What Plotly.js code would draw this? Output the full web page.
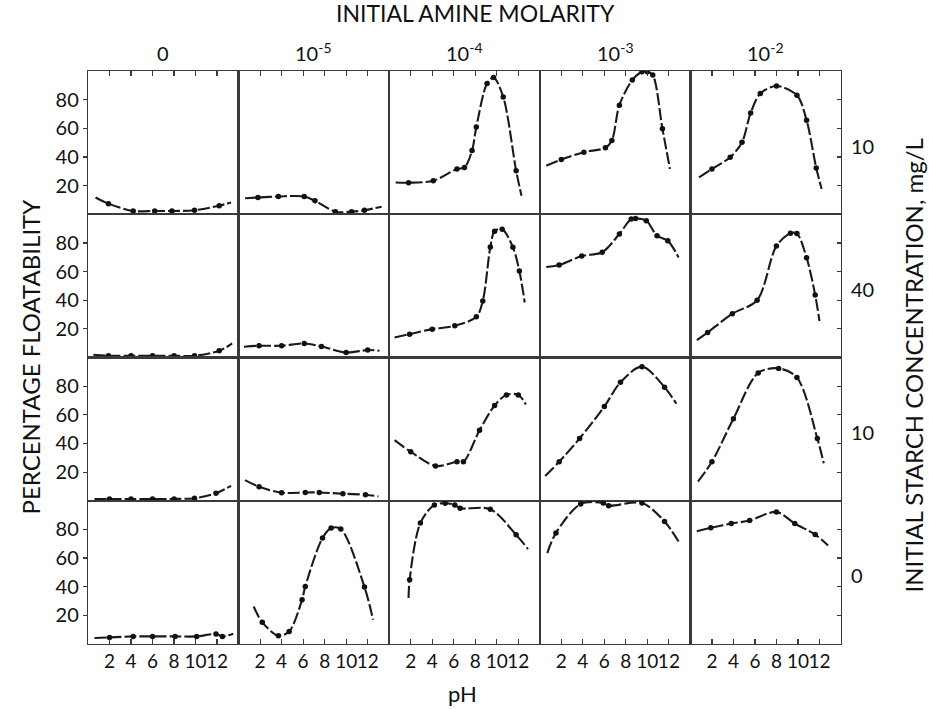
<!DOCTYPE html>
<html>
<head>
<meta charset="utf-8">
<script src="https://cdn.plot.ly/plotly-3.0.1.min.js"></script>
<style>html,body{margin:0;padding:0;background:#fff;}#chart{width:929px;height:709px;}</style>
</head>
<body>
<div id="chart"></div>
<script>
// Column headers (initial amine molarity) and row labels (initial starch concentration, mg/L)
const amineLabels = ["0", "10<sup>-5</sup>", "10<sup>-4</sup>", "10<sup>-3</sup>", "10<sup>-2</sup>"];
const starchLabels = ["10", "40", "10", "0"];
const xTicks = [2, 4, 6, 8, 10, 12];
const yTicks = [20, 40, 60, 80];

// Row 1 (starch 10 mg/L)
const ph_r1_a0 = [0.7, 1.9, 4.2, 6.2, 7.8, 9.9, 12.2, 13.3];
const fl_r1_a0 = [11.7, 7.4, 2.3, 2.3, 2.3, 2.8, 6.0, 8.2];
const ph_r1_a5 = [0.6, 1.8, 3.7, 6.1, 7.1, 9.0, 10.5, 11.7, 13.3];
const fl_r1_a5 = [11.2, 11.7, 12.4, 12.4, 9.4, 1.8, 1.8, 2.8, 5.3];
const ph_r1_a4 = [0.6, 1.8, 4.1, 6.3, 7.0, 7.7, 8.1, 9.1, 9.7, 10.6, 11.8, 12.3];
const fl_r1_a4 = [22.2, 22.0, 23.4, 31.6, 32.7, 44.5, 60.9, 91.3, 95.5, 81.9, 30.4, 12.9];
const ph_r1_a3 = [0.6, 2.0, 4.1, 6.1, 6.7, 7.4, 8.6, 9.5, 10.0, 10.5, 11.4, 12.1];
const fl_r1_a3 = [33.9, 38.2, 43.3, 46.4, 51.5, 76.1, 93.7, 99.5, 99.5, 97.2, 59.7, 31.6];
const ph_r1_a2 = [0.8, 2.0, 3.7, 4.8, 5.6, 6.5, 8.0, 9.9, 10.8, 11.7, 12.2];
const fl_r1_a2 = [25.7, 31.6, 39.8, 50.3, 70.7, 84.3, 89.5, 83.1, 65.6, 32.3, 17.6];

// Row 2 (starch 40 mg/L)
const ph_r2_a0 = [0.5, 1.9, 4.0, 6.0, 8.0, 9.9, 12.2, 13.4];
const fl_r2_a0 = [1.9, 1.2, 1.2, 1.2, 1.2, 1.2, 4.7, 9.8];
const ph_r2_a5 = [0.5, 1.9, 4.0, 6.1, 7.7, 10.0, 12.0, 13.1];
const fl_r2_a5 = [7.5, 8.2, 8.2, 9.8, 7.7, 3.5, 5.2, 4.7];
const ph_r2_a4 = [0.5, 1.9, 4.0, 6.1, 8.1, 8.7, 9.4, 9.8, 10.5, 11.5, 12.1, 12.6];
const fl_r2_a4 = [13.9, 16.3, 19.8, 22.1, 28.4, 39.5, 77.1, 88.2, 89.5, 76.9, 60.4, 38.4];
const ph_r2_a3 = [0.6, 1.8, 3.9, 5.8, 7.4, 8.5, 8.9, 9.9, 10.9, 11.9, 12.9];
const fl_r2_a3 = [63.2, 64.6, 70.8, 73.5, 86.3, 96.7, 97.1, 95.5, 85.0, 81.5, 69.8];
const ph_r2_a2 = [0.6, 1.6, 3.9, 6.2, 8.0, 9.3, 9.9, 10.8, 11.6, 12.0];
const fl_r2_a2 = [12.1, 17.4, 30.6, 40.0, 77.9, 86.8, 86.5, 69.7, 43.7, 25.5];

// Row 3 (starch 10 mg/L)
const ph_r3_a0 = [0.6, 2.0, 4.0, 6.0, 8.0, 9.9, 11.9, 13.3];
const fl_r3_a0 = [1.2, 1.2, 1.2, 1.2, 1.3, 1.8, 5.3, 10.4];
const ph_r3_a5 = [0.6, 1.9, 4.0, 6.2, 7.5, 9.7, 11.8, 13.0];
const fl_r3_a5 = [14.4, 9.8, 5.6, 5.8, 5.8, 4.9, 4.2, 3.0];
const ph_r3_a4 = [0.5, 2.0, 4.3, 6.3, 6.9, 8.4, 9.8, 10.9, 12.0, 12.7];
const fl_r3_a4 = [42.3, 34.2, 24.3, 27.2, 27.2, 49.2, 66.5, 73.9, 73.9, 67.2];
const ph_r3_a3 = [0.5, 1.8, 3.7, 6.0, 7.5, 9.5, 11.6, 12.7];
const fl_r3_a3 = [17.3, 27.2, 43.5, 65.8, 82.7, 93.6, 79.2, 67.7];
const ph_r3_a2 = [0.7, 2.0, 4.0, 6.3, 8.2, 9.9, 11.8, 12.4];
const fl_r3_a2 = [13.4, 27.2, 57.3, 89.2, 92.4, 86.1, 43.5, 26.1];

// Row 4 (starch 0 mg/L)
const ph_r4_a0 = [0.6, 2.0, 4.2, 6.0, 8.1, 10.1, 11.9, 12.5, 13.5];
const fl_r4_a0 = [4.2, 4.6, 5.3, 5.3, 5.3, 5.3, 7.0, 5.3, 7.2];
const ph_r4_a5 = [1.4, 2.2, 3.7, 4.7, 5.9, 6.2, 7.8, 8.6, 9.5, 11.7, 12.5];
const fl_r4_a5 = [26.2, 15.1, 5.8, 8.8, 30.9, 40.2, 74.0, 80.9, 80.3, 39.8, 17.0];
const ph_r4_a4 = [1.8, 1.9, 2.9, 4.2, 5.2, 6.1, 6.6, 9.4, 11.8, 12.9];
const fl_r4_a4 = [32.1, 44.9, 84.5, 97.1, 98.3, 97.1, 94.8, 94.1, 76.2, 66.3];
const ph_r4_a3 = [0.7, 1.5, 3.8, 5.9, 6.4, 9.5, 11.6, 12.9];
const fl_r4_a3 = [63.5, 77.5, 97.7, 98.4, 96.5, 98.4, 85.5, 71.6];
const ph_r4_a2 = [0.6, 1.9, 3.8, 5.5, 8.0, 9.7, 11.6, 12.8];
const fl_r4_a2 = [78.7, 81.1, 84.1, 86.2, 92.2, 84.1, 76.4, 68.8];

const panels = [
  [[ph_r1_a0, fl_r1_a0], [ph_r1_a5, fl_r1_a5], [ph_r1_a4, fl_r1_a4], [ph_r1_a3, fl_r1_a3], [ph_r1_a2, fl_r1_a2]],
  [[ph_r2_a0, fl_r2_a0], [ph_r2_a5, fl_r2_a5], [ph_r2_a4, fl_r2_a4], [ph_r2_a3, fl_r2_a3], [ph_r2_a2, fl_r2_a2]],
  [[ph_r3_a0, fl_r3_a0], [ph_r3_a5, fl_r3_a5], [ph_r3_a4, fl_r3_a4], [ph_r3_a3, fl_r3_a3], [ph_r3_a2, fl_r3_a2]],
  [[ph_r4_a0, fl_r4_a0], [ph_r4_a5, fl_r4_a5], [ph_r4_a4, fl_r4_a4], [ph_r4_a3, fl_r4_a3], [ph_r4_a2, fl_r4_a2]]
];

const FONT = "Lato, 'Open Sans', sans-serif";
const LINE = "#3a3a3a";
const nRows = 4, nCols = 5;
const traces = [];
const layout = {
  width: 929, height: 709,
  margin: {l: 88, r: 88, t: 71, b: 65},
  paper_bgcolor: "#fff", plot_bgcolor: "#fff",
  showlegend: false,
  font: {family: FONT, color: "#111"},
  annotations: []
};

for (let r = 0; r < nRows; r++) {
  for (let c = 0; c < nCols; c++) {
    const i = r * nCols + c + 1;
    const xn = "x" + (i === 1 ? "" : i), yn = "y" + (i === 1 ? "" : i);
    const xk = "xaxis" + (i === 1 ? "" : i), yk = "yaxis" + (i === 1 ? "" : i);
    const [xs, ys] = panels[r][c];
    // curve (dashed spline) and measured points (dots, not at the curve ends)
    traces.push({
      x: xs, y: ys, xaxis: xn, yaxis: yn, type: "scatter", mode: "lines",
      line: {color: "#1a1a1a", width: 2.1, shape: "spline", smoothing: 0.9, dash: "12px,3px"},
      hoverinfo: "skip"
    });
    traces.push({
      x: xs.slice(1, -1), y: ys.slice(1, -1), xaxis: xn, yaxis: yn, type: "scatter", mode: "markers",
      marker: {color: "#111", size: 5.5},
      hoverinfo: "skip"
    });
    const isTop = r === 0, isBottom = r === nRows - 1, isLeft = c === 0, isRight = c === nCols - 1;
    layout[xk] = {
      domain: [c / nCols, (c + 1) / nCols], range: [0, 14], anchor: yn,
      showgrid: false, zeroline: false, showline: true, mirror: true,
      linecolor: LINE, linewidth: 1.2,
      side: isTop ? "top" : "bottom",
      tickmode: "array", tickvals: xTicks,
      ticks: (isTop || isBottom) ? "inside" : "", ticklen: 5, tickwidth: 1.2, tickcolor: LINE,
      showticklabels: isBottom, tickangle: 0,
      tickfont: {family: FONT, size: 19, color: "#111"}
    };
    layout[yk] = {
      domain: [1 - (r + 1) / nRows, 1 - r / nRows], range: [0, 100], anchor: xn,
      showgrid: false, zeroline: false, showline: true, mirror: true,
      linecolor: LINE, linewidth: 1.2,
      side: isRight ? "right" : "left",
      tickmode: "array", tickvals: yTicks,
      ticks: isLeft ? "outside" : (isRight ? "inside" : ""), ticklen: 4, tickwidth: 1.2, tickcolor: LINE,
      showticklabels: isLeft,
      tickfont: {family: FONT, size: 20, color: "#111"}
    };
  }
}

// Column headers
for (let c = 0; c < nCols; c++) {
  layout.annotations.push({
    text: amineLabels[c], xref: "paper", yref: "paper",
    x: (c + 0.5) / nCols, y: 1, yshift: 4, xanchor: "center", yanchor: "bottom",
    showarrow: false, font: {family: FONT, size: 20, color: "#111"}
  });
}
// Row labels on the right
for (let r = 0; r < nRows; r++) {
  layout.annotations.push({
    text: starchLabels[r], xref: "paper", yref: "paper",
    x: 1, xshift: 8, y: 1 - (r + 0.5) / nRows, yshift: -3, xanchor: "left", yanchor: "middle",
    showarrow: false, font: {family: FONT, size: 20, color: "#111"}
  });
}
// Titles
layout.annotations.push({
  text: "INITIAL AMINE MOLARITY", xref: "paper", yref: "paper",
  x: 0.514, y: 1, yshift: 42, xanchor: "center", yanchor: "bottom",
  showarrow: false, font: {family: FONT, size: 23, color: "#111"}
});
layout.annotations.push({
  text: "PERCENTAGE FLOATABILITY", xref: "paper", yref: "paper",
  x: 0, xshift: -58, y: 0.5, xanchor: "center", yanchor: "middle", textangle: -90,
  showarrow: false, font: {family: FONT, size: 24, color: "#111"}
});
layout.annotations.push({
  text: "INITIAL STARCH CONCENTRATION, mg/L", xref: "paper", yref: "paper",
  x: 1, xshift: 72, y: 0.5, yshift: -8, xanchor: "center", yanchor: "middle", textangle: -90,
  showarrow: false, font: {family: FONT, size: 24, color: "#111"}
});
layout.annotations.push({
  text: "pH", xref: "paper", yref: "paper",
  x: 0.497, y: 0, yshift: -34, xanchor: "center", yanchor: "top",
  showarrow: false, font: {family: FONT, size: 22, color: "#111"}
});

Plotly.newPlot("chart", traces, layout, {staticPlot: true, displayModeBar: false});
</script>
</body>
</html>
